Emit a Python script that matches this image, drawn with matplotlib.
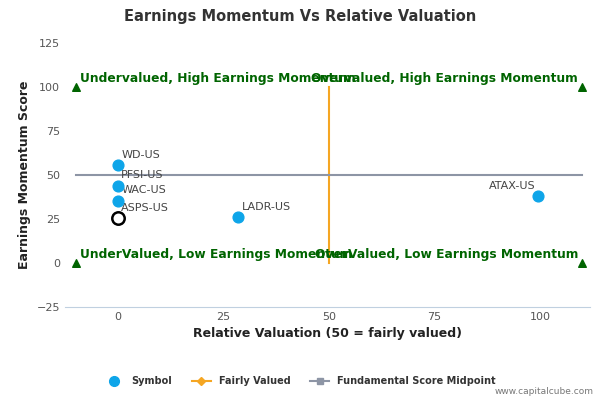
import matplotlib
matplotlib.use("Agg")
import matplotlib.pyplot as plt
from matplotlib.lines import Line2D

# data
symbols = ["WD-US", "PFSI-US", "WAC-US", "ASPS-US", "LADR-US", "ATAX-US"]
rel_val = [0, 0, 0, 0, 28.5, 99.5]
momentum = [55.5, 44, 35.5, 25.5, 26, 38]
hollow = ["ASPS-US"]

corner_x = [-10, 110, -10, 110]
corner_y = [100, 100, 0, 0]
quadrant_labels = ["Undervalued, High Earnings Momentum", "Overvalued, High Earnings Momentum",
                   "UnderValued, Low Earnings Momentum", "OverValued, Low Earnings Momentum"]

fig = plt.figure(figsize=(6, 4), dpi=100)
ax = fig.add_axes([0.108, 0.2325, 0.875, 0.66])
ax.set_xlim(-12.6, 111.8)
ax.set_ylim(-25, 125)
ax.set_xticks([0, 25, 50, 75, 100])
ax.set_yticks([-25, 0, 25, 50, 75, 100, 125])
ax.tick_params(labelsize=8, colors="#555555", length=0)
for s in ["top", "right", "left"]:
    ax.spines[s].set_visible(False)
ax.spines["bottom"].set_color("#c0d0e0")

ax.plot([50, 50], [0, 100], color="#f5a623", lw=1.5)
ax.plot([-10, 110], [50, 50], color="#8d95a5", lw=1.5)
ax.scatter(corner_x, corner_y, marker="^", color="#006400", s=30, zorder=3)

for s, x, y in zip(symbols, rel_val, momentum):
    if s in hollow:
        ax.scatter(x, y, s=80, facecolor="white", edgecolor="black", lw=1.8, zorder=4)
    else:
        ax.scatter(x, y, s=60, color="#0ea5e9", zorder=4)
    ha = "right" if x > 90 else "left"
    dx = -0.5 if x > 90 else 0.8
    ax.text(x + dx, y + 3, s, fontsize=8, color="#444444", ha=ha, va="bottom")

qkw = dict(color="#006400", fontsize=8.8, fontweight="bold", va="bottom")
ax.text(-9, 101, quadrant_labels[0], **qkw)
ax.text(109, 101, quadrant_labels[1], ha="right", **qkw)
ax.text(-9, 1, quadrant_labels[2], **qkw)
ax.text(109, 1, quadrant_labels[3], ha="right", **qkw)

ax.set_xlabel("Relative Valuation (50 = fairly valued)", fontsize=9, fontweight="bold", color="#222222")
ax.set_ylabel("Earnings Momentum Score", fontsize=9, fontweight="bold", color="#222222")
fig.text(0.5, 0.948, "Earnings Momentum Vs Relative Valuation", ha="center", fontsize=10.5,
         fontweight="bold", color="#333333")

handles = [
    Line2D([], [], marker="o", color="#0ea5e9", ls="none", markersize=7),
    Line2D([], [], marker="D", color="#f5a623", markersize=4, lw=1.5),
    Line2D([], [], marker="s", color="#8d95a5", markersize=5, lw=1.5),
]
fig.legend(handles, ["Symbol", "Fairly Valued", "Fundamental Score Midpoint"], loc="center",
           bbox_to_anchor=(0.5, 0.047), ncol=3, frameon=False,
           prop={"size": 7, "weight": "bold"}, labelcolor="#333333", handlelength=2)
fig.text(0.99, 0.015, "www.capitalcube.com", ha="right", fontsize=6.5, color="#777777")

fig.savefig("out.png", dpi=100)
